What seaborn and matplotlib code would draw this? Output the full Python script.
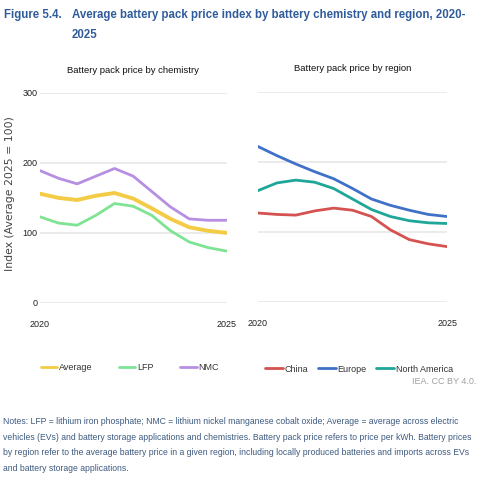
import pandas as pd
import matplotlib.pyplot as plt
import seaborn as sns

# Data (index, average 2025 = 100), half-year steps
YEARS = [2020, 2020.5, 2021, 2021.5, 2022, 2022.5, 2023, 2023.5, 2024, 2024.5, 2025]

AVERAGE = [156, 150, 147, 153, 157, 149, 135, 120, 108, 103, 100]
LFP = [123, 114, 111, 125, 142, 138, 125, 103, 87, 79, 74]
NMC = [189, 178, 170, 181, 192, 181, 159, 137, 120, 118, 118]

CHINA = [127, 125, 124, 130, 134, 131, 122, 103, 89, 83, 79]
EUROPE = [222, 209, 197, 186, 176, 162, 147, 138, 131, 125, 122]
NORTH_AMERICA = [159, 170, 174, 171, 162, 147, 132, 122, 116, 113, 112]

CHEM_NAMES = ["Average", "LFP", "NMC"]
REGION_NAMES = ["China", "Europe", "North America"]
CHEM_COLORS = ["#f4cb45", "#7ee393", "#b68fe2"]
REGION_COLORS = ["#d4524f", "#4071c9", "#1ea698"]

YTICKS = [0, 100, 200, 300]
XTICKS = [2020, 2025]

TITLE_BLUE = "#305c9c"
TEXT_DARK = "#333333"

chem_df = pd.DataFrame({
    "year": YEARS * 3,
    "value": AVERAGE + LFP + NMC,
    "series": [n for n in CHEM_NAMES for _ in YEARS],
})
region_df = pd.DataFrame({
    "year": YEARS * 3,
    "value": CHINA + EUROPE + NORTH_AMERICA,
    "series": [n for n in REGION_NAMES for _ in YEARS],
})

sns.set_style("white")
plt.rcParams["font.family"] = ["Liberation Sans", "DejaVu Sans"]

fig = plt.figure(figsize=(4.8, 4.8), dpi=100)

ax1 = fig.add_axes([0.083, 0.369, 0.389, 0.4375])
ax2 = fig.add_axes([0.5375, 0.371, 0.394, 0.4375])

sns.lineplot(data=chem_df, x="year", y="value", hue="series", hue_order=CHEM_NAMES,
             palette=CHEM_COLORS, ax=ax1, linewidth=2.0)
sns.lineplot(data=region_df, x="year", y="value", hue="series", hue_order=REGION_NAMES,
             palette=REGION_COLORS, ax=ax2, linewidth=2.0)
ax1.lines[0].set_linewidth(2.8)
for ln in ax1.lines + ax2.lines:
    ln.set_solid_joinstyle("round")
    ln.set_solid_capstyle("round")

for ax in (ax1, ax2):
    ax.set_xlim(2020, 2025)
    ax.set_ylim(0, 300)
    ax.set_yticks(YTICKS)
    ax.set_xticks(XTICKS)
    ax.set_xticklabels([str(x) for x in XTICKS])
    ax.grid(axis="y", color="#e8e8e8", linewidth=1.2)
    ax.set_axisbelow(True)
    for s in ax.spines.values():
        s.set_visible(False)
    ax.tick_params(length=0, labelsize=6.5, colors="#222222", pad=12)
    ax.set_xlabel("")
    ax.set_ylabel("")

ax1.tick_params(axis="y", pad=1.5)
ax2.set_yticklabels([])
ax1.set_ylabel("Index (Average 2025 = 100)", fontsize=7.8, color="#444444",
               family=["DejaVu Sans"])
ax1.yaxis.set_label_coords(-0.135, 0.52)

ax1.set_title("Battery pack price by chemistry", fontsize=6.8, color="#111111", pad=14)
ax2.set_title("Battery pack price by region", fontsize=6.8, color="#111111", pad=15)

ax1.legend(loc="center left", bbox_to_anchor=(41 / 480, 1 - 368 / 480),
           bbox_transform=fig.transFigure, ncol=3, frameon=False, borderpad=0,
           borderaxespad=0, fontsize=6.5, handlelength=1.8, handletextpad=0.15,
           columnspacing=3.0, labelcolor=TEXT_DARK)
ax2.legend(loc="center left", bbox_to_anchor=(265 / 480, 1 - 369 / 480),
           bbox_transform=fig.transFigure, ncol=3, frameon=False, borderpad=0,
           borderaxespad=0, fontsize=6.5, handlelength=2.0, handletextpad=0.15,
           columnspacing=1.1, labelcolor=TEXT_DARK)

fig.text(4 / 480, 1 - 15 / 480, "Figure 5.4.", fontsize=8.3, fontweight="bold",
         color=TITLE_BLUE, va="center")
fig.text(72 / 480, 1 - 15 / 480,
         "Average battery pack price index by battery chemistry and region, 2020-",
         fontsize=8.3, fontweight="bold", color=TITLE_BLUE, va="center")
fig.text(72 / 480, 1 - 35 / 480, "2025", fontsize=8.3, fontweight="bold",
         color=TITLE_BLUE, va="center")

fig.text(476 / 480, 1 - 382 / 480, "IEA. CC BY 4.0.", fontsize=6.5, color="#a0a0a0",
         ha="right", va="center")

notes = ("Notes: LFP = lithium iron phosphate; NMC = lithium nickel manganese cobalt oxide; Average = average across electric\n"
         "vehicles (EVs) and battery storage applications and chemistries. Battery pack price refers to price per kWh. Battery prices\n"
         "by region refer to the average battery price in a given region, including locally produced batteries and imports across EVs\n"
         "and battery storage applications.")
fig.text(3 / 480, 1 - 445 / 480, notes, fontsize=6.2, color="#3d5a80", va="center",
         linespacing=1.95)

fig.savefig("out.png", dpi=100)
